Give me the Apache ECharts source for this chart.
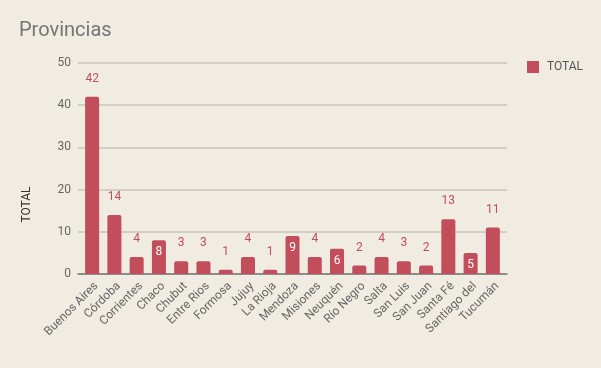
<!DOCTYPE html>
<html><head><meta charset="utf-8">
<script src="https://cdn.jsdelivr.net/npm/echarts@6/dist/echarts.min.js"></script>
<style>html,body{margin:0;padding:0;background:#f0ece2;}#c{width:601px;height:368px;}</style>
</head><body><div id="c"></div>
<script>
const categories = ['Buenos Aires','Córdoba','Corrientes','Chaco','Chubut','Entre Rios','Formosa','Jujuy','La Rioja','Mendoza','Misiones','Neuquén','Río Negro','Salta','San Luis','San Juan','Santa Fé','Santiago del','Tucumán'];
const totals = [42,14,4,8,3,3,1,4,1,9,4,6,2,4,3,2,13,5,11];
const insideLabels = ['Chaco','Mendoza','Neuquén','Santiago del'];
const yTicks = [0,10,20,30,40,50];
const color = '#c24d5b';

const data = totals.map((v, i) => {
  const inside = insideLabels.includes(categories[i]);
  return {
    value: v,
    label: inside
      ? { position: 'insideTop', distance: 6, color: '#ffffff' }
      : { position: 'top', distance: 12, color: color }
  };
});

const yMin = yTicks[0], yMax = yTicks[yTicks.length - 1];
const chart = echarts.init(document.getElementById('c'));
chart.setOption({
  backgroundColor: '#f0ece2',
  textStyle: { fontFamily: 'Roboto' },
  title: { text: 'Provincias', left: 14, top: 16, textStyle: { fontSize: 20, fontWeight: 'normal', color: '#757575', fontFamily: 'Roboto' } },
  legend: { left: 522, top: 56, itemWidth: 12, itemHeight: 12, itemGap: 8, icon: 'rect', textStyle: { color: '#555', fontSize: 12, fontFamily: 'Roboto', padding: [0, 0, 0, 3] }, data: ['TOTAL'] },
  grid: [
    { left: 81, right: 97, top: 63, bottom: 94 },
    { left: 78, right: 94, top: 63, bottom: 94 }
  ],
  xAxis: [{
    type: 'category', data: categories, gridIndex: 0,
    axisLine: { show: false },
    axisTick: { show: false },
    axisLabel: { rotate: 45, interval: 0, color: '#666', fontSize: 12, margin: 6, verticalAlign: 'top' }
  }, {
    type: 'value', gridIndex: 1, min: 0, max: 1,
    axisLine: { show: true, lineStyle: { color: '#777', width: 1.5 } },
    axisTick: { show: false }, axisLabel: { show: false }, splitLine: { show: false }
  }],
  yAxis: [{
    type: 'value', gridIndex: 0, min: yMin, max: yMax, interval: 10,
    name: 'TOTAL', nameLocation: 'middle', nameGap: 48, nameRotate: 90,
    nameTextStyle: { color: '#333', fontSize: 12, padding: [0, 72, 0, 0] },
    axisLine: { show: false }, axisTick: { show: false },
    axisLabel: { color: '#666', fontSize: 12, margin: 10 },
    splitLine: { show: false }
  }, {
    type: 'value', gridIndex: 1, min: yMin, max: yMax, interval: 10,
    axisLine: { show: false }, axisTick: { show: false }, axisLabel: { show: false },
    splitLine: { lineStyle: { color: '#c9c5bc', width: 1.5 } }
  }],
  series: [{
    name: 'TOTAL', type: 'bar', data: data, barWidth: '63%', xAxisIndex: 0, yAxisIndex: 0,
    itemStyle: { color: color, borderRadius: [2, 2, 0, 0] },
    label: { show: true, fontSize: 12, fontFamily: 'Roboto' }
  }]
});
</script></body></html>
